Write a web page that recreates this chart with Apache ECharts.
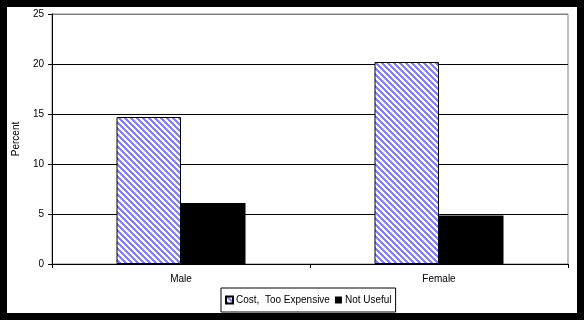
<!DOCTYPE html>
<html>
<head>
<meta charset="utf-8">
<script src="https://cdn.jsdelivr.net/npm/echarts@6/dist/echarts.min.js"></script>
<style>
html,body{margin:0;padding:0;background:#000;width:584px;height:320px;overflow:hidden;}
#chart{position:absolute;left:7px;top:7px;width:570px;height:306px;background:#fff;}
</style>
</head>
<body>
<div id="chart"></div>
<script>
var categories = ['Male', 'Female'];
var costValues = [14.7, 20.2];
var notUsefulValues = [6.1, 4.85];
var yTicks = [0, 5, 10, 15, 20, 25];
var seriesNames = ['Cost,  Too Expensive', 'Not Useful'];

function makeHatch() {
  var c = document.createElement('canvas');
  var P = 6;
  c.width = P; c.height = P;
  var ctx = c.getContext('2d');
  ctx.fillStyle = '#ffffff';
  ctx.fillRect(0, 0, P, P);
  ctx.fillStyle = '#8080ff';
  for (var y = 0; y < P; y++) {
    for (var x = 0; x < P; x++) {
      if ((((x - y) % P) + P) % P < 3) ctx.fillRect(x, y, 1, 1);
    }
  }
  return c;
}
var hatch = makeHatch();

var chart = echarts.init(document.getElementById('chart'), null, {renderer: 'canvas'});
chart.setOption({
  animation: false,
  backgroundColor: '#ffffff',
  textStyle: {fontFamily: 'Liberation Sans, Arial, sans-serif', color: '#000'},
  grid: {left: 45, top: 7, right: 9, bottom: 49, outerBoundsMode: 'none', containLabel: false,
    show: true, borderColor: '#808080', borderWidth: 1, backgroundColor: 'transparent'},
  legend: {
    left: 214, top: 281,
    data: seriesNames,
    orient: 'horizontal',
    icon: 'rect',
    itemWidth: 7, itemHeight: 7, itemGap: 5,
    padding: [7, 4, 7, 4],
    borderColor: '#000', borderWidth: 1,
    textStyle: {fontSize: 10, color: '#000', padding: [0, 0, 0, -2]}
  },
  xAxis: {
    type: 'category',
    data: categories,
    axisLine: {lineStyle: {color: '#000', width: 1}},
    axisTick: {show: true, length: 4, lineStyle: {color: '#000'}},
    axisLabel: {fontSize: 10, color: '#000', margin: 10},
    splitLine: {show: false}
  },
  yAxis: {
    type: 'value',
    min: 0, max: 25, interval: 5,
    name: 'Percent',
    nameLocation: 'middle',
    nameGap: 31,
    nameTextStyle: {fontSize: 10, color: '#000'},
    axisLine: {show: true, lineStyle: {color: '#000', width: 1}},
    axisTick: {show: true, length: 4, lineStyle: {color: '#000'}},
    axisLabel: {fontSize: 10, color: '#000', margin: 8,
      formatter: function (v) { return yTicks.indexOf(v) >= 0 ? String(v) : ''; }},
    splitLine: {show: true, lineStyle: {color: ['#000', '#000', '#000', '#000', '#000', '#808080'], width: 1}}
  },
  series: [
    {
      name: seriesNames[0],
      type: 'bar',
      data: costValues,
      barGap: '0%',
      barCategoryGap: '50%',
      itemStyle: {color: {image: hatch, repeat: 'repeat'}, borderColor: '#000', borderWidth: 1}
    },
    {
      name: seriesNames[1],
      type: 'bar',
      data: notUsefulValues,
      barGap: '0%',
      barCategoryGap: '50%',
      itemStyle: {color: '#000', borderColor: '#000', borderWidth: 0}
    }
  ]
});
</script>
</body>
</html>
